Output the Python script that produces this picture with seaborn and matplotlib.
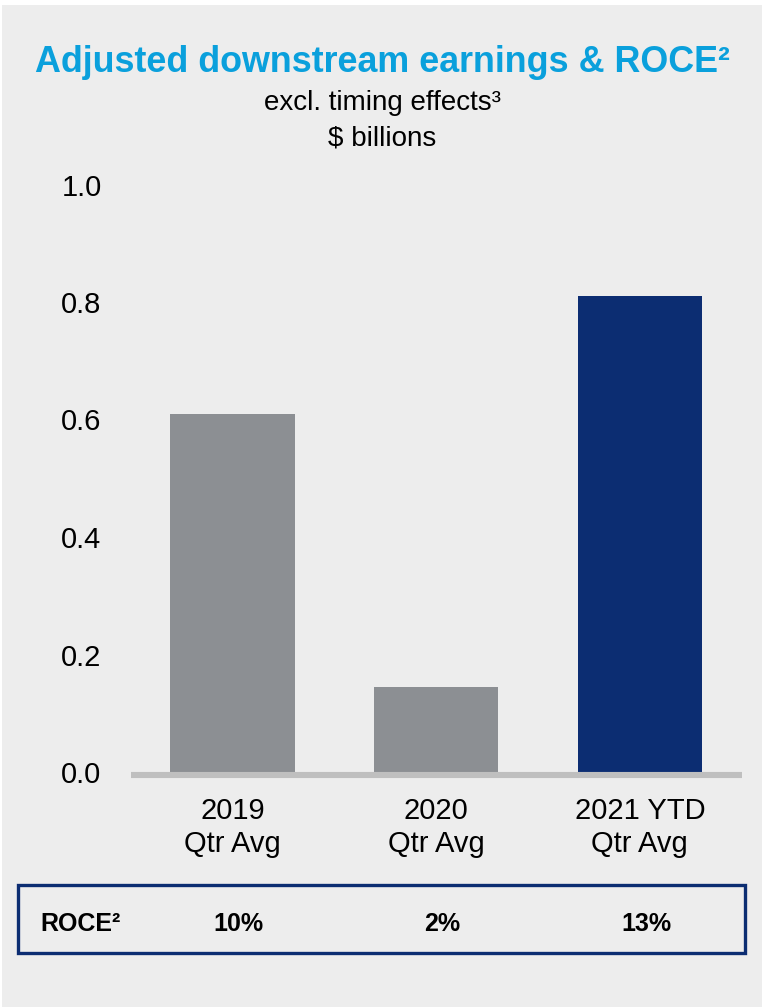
import matplotlib
matplotlib.use("Agg")
import matplotlib.pyplot as plt
import matplotlib.transforms as mtransforms
from matplotlib.patches import Rectangle
import seaborn as sns
import pandas as pd

# ---- data ----
categories = ["2019\nQtr Avg", "2020\nQtr Avg", "2021 YTD\nQtr Avg"]
earnings = [0.61, 0.145, 0.81]
roce_labels = ["10%", "2%", "13%"]
bar_colors = ["#8C8F93", "#8C8F93", "#0C2D72"]
yticks = [0.0, 0.2, 0.4, 0.6, 0.8, 1.0]

BG = "#EDEDED"
W, H = 769, 1007

sns.set_theme(style="white")
plt.rcParams["font.family"] = ["Liberation Sans", "DejaVu Sans"]

fig = plt.figure(figsize=(W / 100, H / 100), dpi=100, facecolor="white")
fig.patches.append(Rectangle((2 / W, 0), 760 / W, (H - 5) / H,
                             transform=fig.transFigure, facecolor=BG,
                             edgecolor="none", zorder=-10))

ax = fig.add_axes([130.7 / W, (H - 772) / H, 611 / W, 587.5 / H])
ax.set_facecolor(BG)
ax.patch.set_alpha(0)

df = pd.DataFrame({"cat": categories, "val": earnings})
sns.barplot(data=df, x="cat", y="val", hue="cat", palette=bar_colors,
            width=0.61, legend=False, ax=ax, saturation=1, linewidth=0,
            edgecolor="none")

ax.set_xlim(-0.5, 2.5)
ax.set_ylim(0, 1.0)
ax.set_yticks(yticks)
ax.set_yticklabels([f"{v:.1f}" for v in yticks])
ax.set_xlabel("")
ax.set_ylabel("")
ax.tick_params(axis="y", length=0, pad=21, labelsize=21, labelcolor="#000000")
ax.tick_params(axis="x", length=0, pad=16, labelsize=21, labelcolor="#000000")
for lab in ax.get_xticklabels():
    lab.set_linespacing(1.2)

for s in ["top", "left", "right"]:
    ax.spines[s].set_visible(False)
ax.spines["bottom"].set_color("#BFBFBF")
ax.spines["bottom"].set_linewidth(4.4)
ax.spines["bottom"].set_capstyle("butt")
ax.spines["bottom"].set_position(("outward", 2.2))

# titles
cx = 382 / W
fig.text(cx, (H - 72) / H, "Adjusted downstream earnings & ROCE\u00b2",
         ha="center", va="baseline", fontsize=25.8, fontweight="bold",
         color="#0AA0DC")
fig.text(cx, (H - 110) / H, "excl. timing effects\u00b3",
         ha="center", va="baseline", fontsize=20, color="#000000")
fig.text(cx, (H - 145) / H, "$ billions",
         ha="center", va="baseline", fontsize=20, color="#000000")

# ROCE box
fig.patches.append(Rectangle((18 / W, (H - 953) / H), 727 / W, 68 / H,
                             transform=fig.transFigure, facecolor="none",
                             edgecolor="#0C2D72", linewidth=2.4, zorder=5))
fig.text(40 / W, (H - 931) / H, "ROCE\u00b2", ha="left", va="baseline",
         fontsize=18, fontweight="bold", color="#000000")
trans = mtransforms.blended_transform_factory(ax.transData, fig.transFigure)
for i, lab in enumerate(roce_labels):
    ax.text(i + 0.03, (H - 931) / H, lab, transform=trans, ha="center",
            va="baseline", fontsize=18, fontweight="bold", color="#000000",
            clip_on=False)

fig.savefig("out.png", dpi=100, facecolor="white")
